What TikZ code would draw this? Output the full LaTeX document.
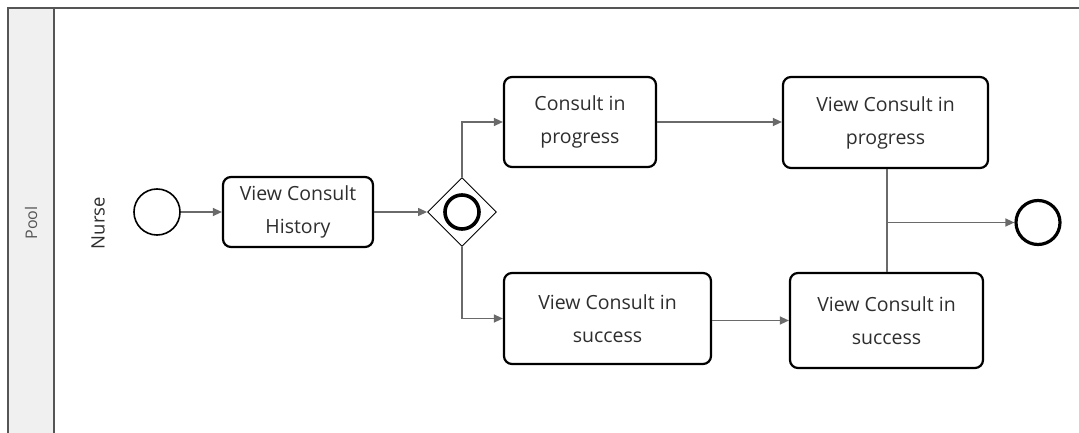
\documentclass[tikz,border=0pt]{standalone}
\usepackage{fontspec}
\setmainfont{Open Sans}
\usetikzlibrary{arrows.meta,shapes.geometric}
\definecolor{txt}{HTML}{2E2E2E}
\definecolor{flow}{HTML}{6A6A6A}
\definecolor{frame}{HTML}{555555}
\definecolor{strip}{HTML}{F0F0F0}
\tikzset{
  task/.style={draw=black, line width=2.2pt, rounded corners=8pt, fill=white,
    align=center, text=txt, inner sep=0pt, font=\fontsize{19.5}{33}\selectfont},
  startev/.style={circle, draw=black, line width=1.6pt, minimum size=46pt, inner sep=0pt},
  endev/.style={circle, draw=black, line width=3.2pt, minimum size=44pt, inner sep=0pt},
  gate/.style={diamond, draw=black, line width=0.9pt, minimum size=69pt, inner sep=0pt, fill=white},
  gatemark/.style={circle, draw=black, line width=3.6pt, minimum size=34pt, inner sep=0pt},
  flowline/.style={draw=flow, line width=1.3pt},
  flowarrow/.style={flowline, -{Triangle[length=9pt,width=8pt]}},
  lanelabel/.style={rotate=90, text=txt},
}
\begin{document}
\begin{tikzpicture}[x=1pt,y=-1pt]
\useasboundingbox (0,0) rectangle (1079,433);
\fill[white] (0,0) rectangle (1079,433);

% pool frame and its label strip
\fill[strip] (8,8) rectangle (54,433);
\draw[frame, line width=1.3pt] (1079,8) -- (8,8) -- (8,433);
\draw[frame, line width=1.3pt] (54,8) -- (54,433);
\node[lanelabel, font=\fontsize{16}{18}\selectfont, text=frame] (pool) at (31,223) {Pool};
\node[lanelabel, font=\fontsize{18.5}{20}\selectfont] (lane) at (98,223) {Nurse};

% events, gateway and tasks
\node[startev] (start) at (157,212) {};
\node[task, minimum width=150pt, minimum height=70pt] (hist) at (298,212) {View Consult\\History};
\node[gate] (gw) at (462,212) {};
\node[gatemark] (gwm) at (462,212) {};
\node[task, minimum width=152pt, minimum height=90pt] (prog) at (580,122) {Consult in\\progress};
\node[task, minimum width=207pt, minimum height=91pt] (succ) at (607.5,318.5) {View Consult in\\success};
\node[task, minimum width=205pt, minimum height=91pt] (vprog) at (885.5,122.5) {View Consult in\\progress};
\node[task, minimum width=193pt, minimum height=95pt] (vsucc) at (886.5,320.5) {View Consult in\\success};
\node[endev] (end) at (1038,222.5) {};
\coordinate (join) at (887,222.5);

% sequence flows
\draw[flowarrow] (start) -- (hist);
\draw[flowarrow] (hist.east) -- (gw.west);
\draw[flowarrow] (gw.north) |- (prog.west);
\draw[flowarrow] (gw.south) |- (succ.west);
\draw[flowarrow] (prog.east) -- (prog.east -| vprog.west);
\draw[flowarrow] (succ.east |- vsucc.west) -- (vsucc.west);
\draw[flowline] (vprog.south -| join) -- (vsucc.north -| join);
\draw[flowarrow] (join) -- (end.west);
\end{tikzpicture}
\end{document}
